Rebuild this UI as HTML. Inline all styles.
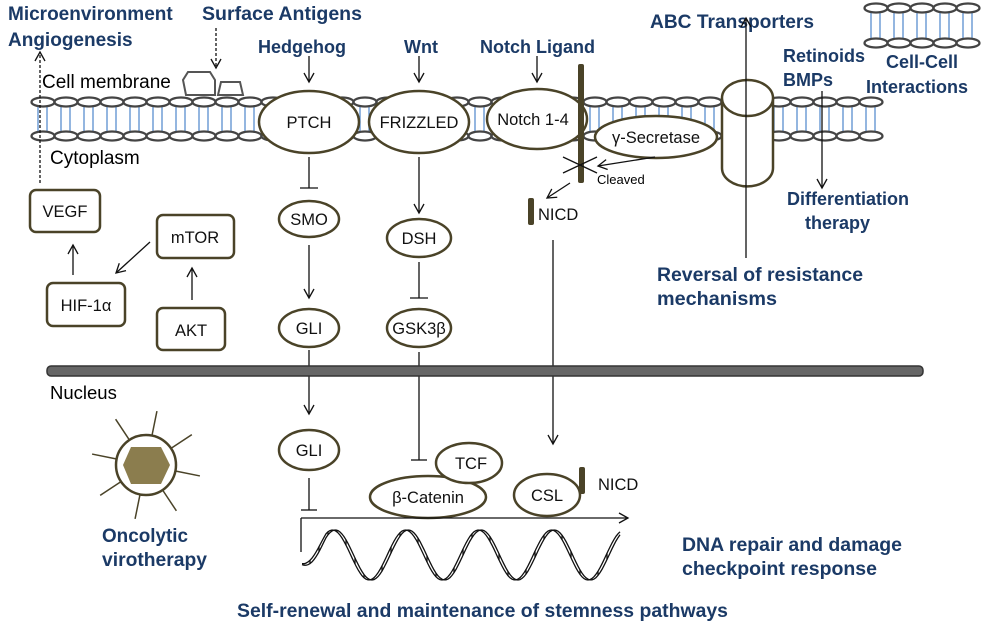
<!DOCTYPE html>
<html><head><meta charset="utf-8"><style>
html,body{margin:0;padding:0;background:#fff;}
svg{display:block;}
text{font-family:"Liberation Sans",Arial,sans-serif;}
.b{fill:#1b3a66;font-weight:bold;font-size:19.5px;}
.c{fill:#1b3a66;font-weight:bold;font-size:18px;}
.k{fill:#000;font-size:19px;}
.n{fill:#111;font-size:16.5px;}
.o{fill:#fff;stroke:#4a4328;stroke-width:2.5;}
.l{stroke:#111;stroke-width:1.3;fill:none;}
</style></head><body>
<svg id="s" width="1000" height="628" viewBox="0 0 1000 628" xmlns="http://www.w3.org/2000/svg">
<defs>
<marker id="a" markerWidth="12" markerHeight="12" refX="10" refY="6" orient="auto" markerUnits="userSpaceOnUse">
<path d="M1,1 L10,6 L1,11" fill="none" stroke="#111" stroke-width="1.3"/></marker>
</defs>
<g id="mem"></g>
<!-- titles -->
<text class="c" x="8" y="20" style="font-size:19px">Microenvironment</text>
<text class="c" x="8" y="46" style="font-size:19px">Angiogenesis</text>
<text class="b" x="202" y="20" textLength="160" lengthAdjust="spacingAndGlyphs">Surface Antigens</text>
<text class="c" x="258" y="53">Hedgehog</text>
<text class="c" x="404" y="53">Wnt</text>
<text class="c" x="480" y="53">Notch Ligand</text>
<text class="b" x="650" y="28" textLength="164" lengthAdjust="spacingAndGlyphs">ABC Transporters</text>
<text class="c" x="783" y="62">Retinoids</text>
<text class="c" x="783" y="86">BMPs</text>
<text class="c" x="886" y="68">Cell-Cell</text>
<text class="c" x="866" y="93">Interactions</text>
<text class="c" x="787" y="205">Differentiation</text>
<text class="c" x="805" y="229">therapy</text>
<text class="b" x="657" y="281" textLength="206" lengthAdjust="spacingAndGlyphs">Reversal of resistance</text>
<text class="b" x="657" y="305" textLength="120" lengthAdjust="spacingAndGlyphs">mechanisms</text>
<text class="b" x="682" y="551" textLength="220" lengthAdjust="spacingAndGlyphs">DNA repair and damage</text>
<text class="b" x="682" y="575" textLength="195" lengthAdjust="spacingAndGlyphs">checkpoint response</text>
<text class="b" x="102" y="542" textLength="86" lengthAdjust="spacingAndGlyphs">Oncolytic</text>
<text class="b" x="102" y="566" textLength="105" lengthAdjust="spacingAndGlyphs">virotherapy</text>
<text class="b" x="237" y="617" textLength="491" lengthAdjust="spacingAndGlyphs">Self-renewal and maintenance of stemness pathways</text>
<text class="k" x="42" y="88">Cell membrane</text>
<text class="k" x="50" y="164">Cytoplasm</text>
<text class="k" x="50" y="399" style="font-size:18.5px">Nucleus</text>

<!-- dashed arrows -->
<line x1="40" y1="183" x2="40" y2="52" class="l" stroke-dasharray="3,2" marker-end="url(#a)"/>
<line x1="216" y1="28" x2="216" y2="68" class="l" stroke-dasharray="3,2" marker-end="url(#a)"/>
<!-- antigens -->
<path d="M186,95 L183,80 L188,72 L210,72 L215,80 L215,95 Z" fill="#fff" stroke="#555" stroke-width="2"/>
<path d="M218,95 L221,82 L240,82 L243,95 Z" fill="#fff" stroke="#555" stroke-width="2"/>

<!-- membrane proteins -->
<ellipse class="o" cx="309" cy="122" rx="50" ry="31"/>
<text class="n" x="309" y="128" text-anchor="middle">PTCH</text>
<ellipse class="o" cx="419" cy="122" rx="50" ry="31"/>
<text class="n" x="419" y="128" text-anchor="middle">FRIZZLED</text>
<ellipse class="o" cx="537" cy="119" rx="50" ry="30"/>
<text class="n" x="533" y="125" text-anchor="middle">Notch 1-4</text>
<rect x="578" y="64" width="6" height="119" rx="2" fill="#4a4328"/>
<ellipse class="o" cx="656" cy="137" rx="61" ry="21"/>
<text class="n" x="656" y="143" text-anchor="middle">γ-Secretase</text>
<!-- cylinder -->
<path d="M722,98 L722,168 A25,18 0 0 0 773,168 L773,98" class="o"/>
<ellipse class="o" cx="747.5" cy="98" rx="25.5" ry="18"/>
<line x1="746" y1="258" x2="746" y2="18" class="l" marker-end="url(#a)"/>
<line x1="822" y1="91" x2="822" y2="188" class="l" marker-end="url(#a)"/>

<!-- notch cleavage -->
<line x1="563" y1="157" x2="597" y2="173" class="l"/>
<line x1="563" y1="173" x2="597" y2="157" class="l"/>
<line x1="655" y1="157" x2="598" y2="166" class="l" marker-end="url(#a)"/>
<text x="597" y="184" style="font-size:13px">Cleaved</text>
<line x1="570" y1="183" x2="547" y2="198" class="l" marker-end="url(#a)"/>
<rect x="528" y="198" width="6" height="27" rx="2" fill="#4a4328"/>
<text class="n" x="538" y="220">NICD</text>
<line x1="553" y1="240" x2="553" y2="444" class="l" marker-end="url(#a)"/>

<!-- hedgehog -->
<line x1="309" y1="56" x2="309" y2="82" class="l" marker-end="url(#a)"/>
<line x1="309" y1="157" x2="309" y2="188" class="l"/><line x1="300" y1="188" x2="318" y2="188" class="l"/>
<ellipse class="o" cx="309" cy="219" rx="30" ry="18"/><text class="n" x="309" y="225" text-anchor="middle">SMO</text>
<line x1="309" y1="245" x2="309" y2="298" class="l" marker-end="url(#a)"/>
<ellipse class="o" cx="309" cy="328" rx="30" ry="19"/><text class="n" x="309" y="334" text-anchor="middle">GLI</text>
<line x1="309" y1="350" x2="309" y2="414" class="l" marker-end="url(#a)"/>
<ellipse class="o" cx="309" cy="450" rx="30" ry="20"/><text class="n" x="309" y="456" text-anchor="middle">GLI</text>
<line x1="309" y1="478" x2="309" y2="510" class="l"/><line x1="301" y1="510" x2="317" y2="510" class="l"/>

<!-- wnt -->
<line x1="419" y1="56" x2="419" y2="82" class="l" marker-end="url(#a)"/>
<line x1="419" y1="157" x2="419" y2="213" class="l" marker-end="url(#a)"/>
<ellipse class="o" cx="419" cy="238" rx="32" ry="19"/><text class="n" x="419" y="244" text-anchor="middle">DSH</text>
<line x1="419" y1="262" x2="419" y2="298" class="l"/><line x1="410" y1="298" x2="428" y2="298" class="l"/>
<ellipse class="o" cx="419" cy="328" rx="32" ry="19"/><text class="n" x="419" y="334" text-anchor="middle">GSK3β</text>
<line x1="419" y1="352" x2="419" y2="460" class="l"/><line x1="411" y1="460" x2="427" y2="460" class="l"/>
<line x1="537" y1="56" x2="537" y2="82" class="l" marker-end="url(#a)"/>

<ellipse class="o" cx="428" cy="497" rx="58" ry="21"/><text class="n" x="428" y="503" text-anchor="middle">β-Catenin</text>
<ellipse class="o" cx="469" cy="463" rx="33" ry="20"/><text class="n" x="471" y="469" text-anchor="middle">TCF</text>
<ellipse class="o" cx="547" cy="495" rx="33" ry="21"/><text class="n" x="547" y="501" text-anchor="middle">CSL</text>
<rect x="579" y="467" width="6" height="27" rx="2" fill="#4a4328"/>
<text class="n" x="598" y="490">NICD</text>

<line x1="301" y1="552" x2="301" y2="518" class="l"/>
<line x1="301" y1="518" x2="628" y2="518" class="l" marker-end="url(#a)"/>
<g id="dna" fill="none" stroke="#111" stroke-width="1.3"></g>

<!-- left boxes -->
<rect x="30" y="190" width="70" height="42" rx="6" class="o"/><text class="n" x="65" y="217" text-anchor="middle">VEGF</text>
<rect x="157" y="215" width="77" height="43" rx="6" class="o"/><text class="n" x="195" y="243" text-anchor="middle">mTOR</text>
<rect x="47" y="283" width="78" height="43" rx="6" class="o"/><text class="n" x="86" y="311" text-anchor="middle">HIF-1α</text>
<rect x="157" y="308" width="68" height="42" rx="6" class="o"/><text class="n" x="191" y="336" text-anchor="middle">AKT</text>
<line x1="73" y1="275" x2="73" y2="245" class="l" marker-end="url(#a)"/>
<line x1="150" y1="242" x2="116" y2="273" class="l" marker-end="url(#a)"/>
<line x1="192" y1="300" x2="192" y2="268" class="l" marker-end="url(#a)"/>

<!-- nucleus bar -->
<rect x="47" y="366" width="876" height="10" rx="4" fill="#666" stroke="#333" stroke-width="1.5"/>

<!-- virus -->
<g stroke="#4a4328" stroke-width="1.5" id="spk"></g>
<circle cx="146" cy="465" r="30" fill="#fff" stroke="#4a4328" stroke-width="2.5"/>
<polygon points="131,447 161,447 170,465 161,484 131,484 123,465" fill="#8b7d4e"/>
</svg>
<script>
var NS="http://www.w3.org/2000/svg",m=document.getElementById("mem");
function el(t,a,p){var e=document.createElementNS(NS,t);for(var k in a)e.setAttribute(k,a[k]);(p||m).appendChild(e);return e;}
function memb(x0,x1,yt,yb){for(var x=x0;x<=x1;x+=23){el("line",{x1:x-5,y1:yt,x2:x-5,y2:yb,stroke:"#5b8fd0","stroke-width":1.3});el("line",{x1:x+4,y1:yt,x2:x+4,y2:yb,stroke:"#5b8fd0","stroke-width":1.3});}
for(var x=x0;x<=x1;x+=23){el("ellipse",{cx:x,cy:yt,rx:11.5,ry:4.5,fill:"#fff",stroke:"#444","stroke-width":2.3});el("ellipse",{cx:x,cy:yb,rx:11.5,ry:4.5,fill:"#fff",stroke:"#444","stroke-width":2.3});}}
memb(43,890,102,136);memb(876,970,8,43);
var s=document.getElementById("spk");
for(var i=0;i<8;i++){var a=i*Math.PI/4+0.2;el("line",{x1:146+30*Math.cos(a),y1:465+30*Math.sin(a),x2:146+55*Math.cos(a),y2:465+55*Math.sin(a)},s);}
var d=document.getElementById("dna");
function wave(ph){var p="";for(var x=302;x<=620;x+=2){var y=555-25*Math.sin((x-302)/73*2*Math.PI-1.3+ph)*Math.min(1,(x-302)/40+0.4);p+=(p?"L":"M")+x+","+y.toFixed(1);}el("path",{d:p},d);}
wave(0);wave(0.25);
for(var x=310;x<=615;x+=9){var y1=555-25*Math.sin((x-302)/73*2*Math.PI-1.3)*Math.min(1,(x-302)/40+0.4),y2=555-25*Math.sin((x-302)/73*2*Math.PI-1.05)*Math.min(1,(x-302)/40+0.4);el("line",{x1:x,y1:y1,x2:x,y2:y2},d);}
</script>
</body></html>
